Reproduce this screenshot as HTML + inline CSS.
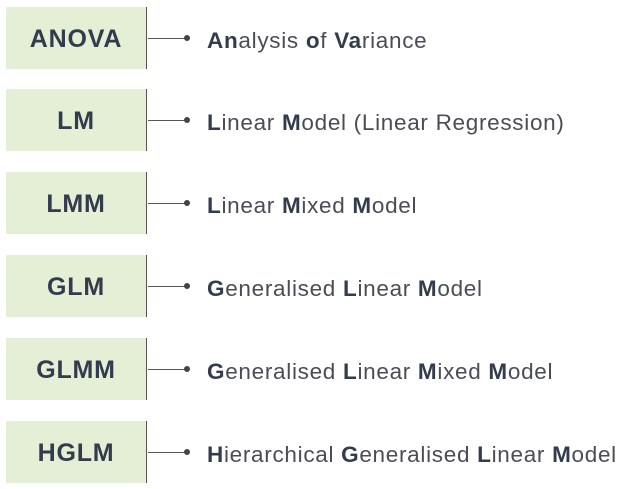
<html><head><style>
body{margin:0;width:630px;height:489px;background:#fff;font-family:"Liberation Sans",sans-serif;position:relative;overflow:hidden}
.b{position:absolute;left:6px;width:141px;height:62px;background:#e4efd6;border-right:1.5px solid #555;color:#333c4d;font-weight:bold;font-size:25px;letter-spacing:0.8px;display:flex;align-items:center;justify-content:center;padding-top:3px;box-sizing:border-box}
.l{position:absolute;left:148px;width:38px;height:1.3px;background:#555}
.d{position:absolute;left:184px;width:6px;height:6px;border-radius:50%;background:#444}
.t{position:absolute;left:207px;font-size:22.5px;letter-spacing:0.7px;color:#4a4d55;white-space:nowrap;line-height:30px}
.t b{color:#333c4d}
</style></head><body>
<div class="b" style="top:7px">ANOVA</div><div class="l" style="top:38px"></div><div class="d" style="top:35px"></div><div class="t" style="top:26px"><b>An</b>alysis <b>o</b>f <b>Va</b>riance</div>
<div class="b" style="top:89px">LM</div><div class="l" style="top:120px"></div><div class="d" style="top:117px"></div><div class="t" style="top:108px"><b>L</b>inear <b>M</b>odel (Linear Regression)</div>
<div class="b" style="top:172px">LMM</div><div class="l" style="top:203px"></div><div class="d" style="top:200px"></div><div class="t" style="top:191px"><b>L</b>inear <b>M</b>ixed <b>M</b>odel</div>
<div class="b" style="top:255px">GLM</div><div class="l" style="top:286px"></div><div class="d" style="top:283px"></div><div class="t" style="top:274px"><b>G</b>eneralised <b>L</b>inear <b>M</b>odel</div>
<div class="b" style="top:338px">GLMM</div><div class="l" style="top:369px"></div><div class="d" style="top:366px"></div><div class="t" style="top:357px"><b>G</b>eneralised <b>L</b>inear <b>M</b>ixed <b>M</b>odel</div>
<div class="b" style="top:421px">HGLM</div><div class="l" style="top:452px"></div><div class="d" style="top:449px"></div><div class="t" style="top:440px"><b>H</b>ierarchical <b>G</b>eneralised <b>L</b>inear <b>M</b>odel</div>
</body></html>
